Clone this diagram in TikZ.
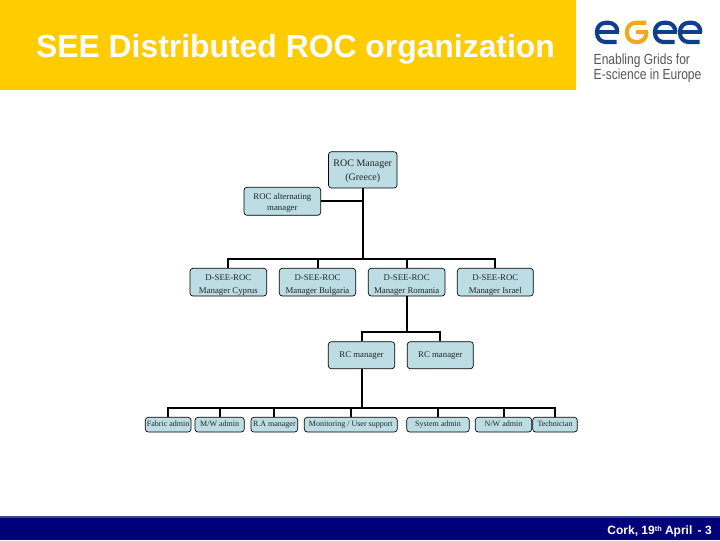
\documentclass[tikz,border=0pt]{standalone}
\usepackage{fontspec}
\setmainfont{Liberation Serif}
\newfontfamily\hfont{Liberation Sans}
\definecolor{bandyellow}{HTML}{FFCC00}
\definecolor{navyband}{HTML}{000078}
\definecolor{navyedge}{HTML}{3A4A80}
\definecolor{boxfill}{HTML}{BBDDE3}
\definecolor{logoblue}{HTML}{0F3F8C}
\definecolor{logoorange}{HTML}{F0A81E}
\definecolor{logogray}{HTML}{555555}
\tikzset{
  x=0.75pt,y=-0.75pt,
  orgbox/.style={draw=black,line width=0.5pt,fill=boxfill,rounded corners=2.2pt,inner sep=0pt,
    align=center,font=\fontsize{6.6}{9.6}\selectfont,text=black!85},
  bigtext/.style={font=\fontsize{7.5}{10}\selectfont},
  alttext/.style={font=\fontsize{6.6}{8.2}\selectfont},
  lowtext/.style={font=\fontsize{6}{7.6}\selectfont},
  link/.style={line width=1.5pt,draw=black},
  logostroke/.style={line width=3.1pt,line cap=butt},
}
\newcommand{\obox}[7][]{% style, name, x1, y1, x2, y2, text
  \node[orgbox,#1,minimum width={(#5-#3)*0.75pt},minimum height={(#6-#4)*0.75pt}] (#2) at ({(#3+#5)/2},{(#4+#6)/2}) {#7};}
\newcommand{\logoe}[2]{% x offset, colour
  \begin{scope}[shift={(#1,0)}]
  \draw[logostroke,draw=#2,rounded corners=6.4pt] (22.3,32) -- (22.3,22.8) -- (2,22.8) -- (2,42) -- (21.5,42);
  \draw[logostroke,draw=#2] (2,32) -- (24.3,32);
  \end{scope}}
\begin{document}
\begin{tikzpicture}
\useasboundingbox (0,0) rectangle (720,540);
\fill[white] (0,0) rectangle (720,540);
\fill[bandyellow] (0,0) rectangle (576,90);
\fill[navyband] (0,516) rectangle (720,540);
\fill[navyedge] (0,515.5) rectangle (720,517.5);
\node[anchor=center,text=white,font=\hfont\bfseries\fontsize{23.9}{26}\selectfont,inner sep=0pt] (title) at (295.5,49) {SEE Distributed ROC organization};
\node[anchor=east,text=white,font=\hfont\bfseries\fontsize{9}{10}\selectfont,inner sep=0pt] (foot) at (712,531) {Cork, 19\raisebox{0.45ex}{\fontsize{5.5}{6}\selectfont th} April\, - 3};
% logo
\logoe{595}{logoblue}
\draw[logostroke,draw=logoorange,rounded corners=6.4pt] (646,22.8) -- (627,22.8) -- (627,42) -- (646.3,42) -- (646.3,32);
\draw[logostroke,draw=logoorange] (648,32) -- (636,32);
\logoe{653}{logoblue}
\logoe{678}{logoblue}
\node[anchor=west,text=logogray,xscale=0.82,font=\hfont\fontsize{11}{9.8}\selectfont,align=left,inner sep=0pt] (logotext) at (593.5,68.5) {Enabling Grids for\\E-science in Europe};
% boxes
\obox[bigtext]{roc}{328.5}{151.7}{397}{188}{\rule{0pt}{7.2pt}ROC Manager\\(Greece)}
\obox[alttext]{alt}{244}{187.3}{320.7}{215.3}{\rule{0pt}{7.5pt}ROC alternating\\manager}
\obox{cyp}{190}{268.3}{266.7}{296}{\rule{0pt}{8.2pt}D-SEE-ROC\\Manager Cyprus}
\obox{bul}{279.3}{268.3}{355.7}{296}{\rule{0pt}{8.2pt}D-SEE-ROC\\Manager Bulgaria}
\obox{rom}{368.3}{268.3}{445}{296}{\rule{0pt}{8.2pt}D-SEE-ROC\\Manager Romania}
\obox{isr}{457.3}{268.3}{533.3}{296}{\rule{0pt}{8.2pt}D-SEE-ROC\\Manager Israel}
\obox{rca}{328.3}{341.7}{394.7}{368.7}{RC manager}
\obox{rcb}{407.3}{341.7}{473.3}{368.7}{RC manager}
\obox[lowtext]{fab}{145.3}{417.3}{191}{432}{\strut Fabric admin}
\obox[lowtext]{mw}{195}{417.3}{244.3}{432}{\strut M/W admin}
\obox[lowtext]{ra}{251}{417.3}{297.7}{432}{\strut R.A manager}
\obox[lowtext]{mon}{304.3}{417.3}{397.3}{432}{\strut Monitoring / User support}
\obox[lowtext]{sys}{406.7}{417.3}{469.3}{432}{\strut System admin}
\obox[lowtext]{nw}{475.3}{417.3}{531.7}{432}{\strut N/W admin}
\obox[lowtext]{tec}{532.7}{417.3}{577.3}{432}{\strut Technician}
% connector junctions
\coordinate (busa) at (362.75,259.3);
\coordinate (busb) at (406.65,331.7);
\coordinate (busc) at (361.5,407.7);
% connectors
\draw[link] (roc.south) -- (busa);
\draw[link] (alt.east) -- (alt.east -| roc.south);
\foreach \n in {cyp,bul,rom,isr} \draw[link] (\n.north) |- (busa);
\draw[link] (rom.south) -- (busb);
\foreach \n in {rca,rcb} \draw[link] (\n.north) |- (busb);
\draw[link] (rca.south) -- (busc);
\foreach \n in {fab,mw,ra,mon,sys,nw,tec} \draw[link] (\n.north) |- (busc);
\end{tikzpicture}
\end{document}
